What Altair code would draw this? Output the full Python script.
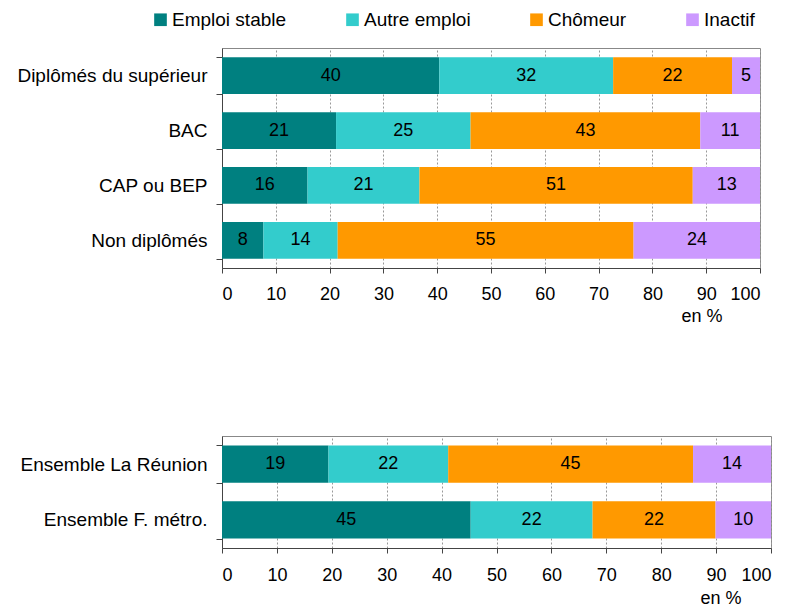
import altair as alt
import pandas as pd

statuts = ["Emploi stable", "Autre emploi", "Chômeur", "Inactif"]
couleurs = ["#008080", "#33CCCC", "#FF9900", "#CC99FF"]

diplomes = ["Diplômés du supérieur", "BAC", "CAP ou BEP", "Non diplômés"]
emploi_stable = [40.4, 21.2, 15.9, 7.7]
autre_emploi = [32.3, 25.0, 20.8, 13.8]
chomeur = [22.1, 42.7, 50.8, 55.0]
inactif = [5.2, 11.1, 12.6, 23.6]

ensembles = ["Ensemble La Réunion", "Ensemble F. métro."]
ens_emploi_stable = [19.4, 45.3]
ens_autre_emploi = [21.8, 22.2]
ens_chomeur = [44.6, 22.4]
ens_inactif = [14.2, 10.1]

x_ticks = [0, 10, 20, 30, 40, 50, 60, 70, 80, 90, 100]

FONT = "Liberation Sans"


def long_df(cats, series):
    rows = []
    for i, c in enumerate(cats):
        for k, s in enumerate(statuts):
            rows.append({"cat": c, "statut": s, "ordre": k, "value": series[k][i]})
    return pd.DataFrame(rows)


df_top = long_df(diplomes, [emploi_stable, autre_emploi, chomeur, inactif])
df_bot = long_df(ensembles, [ens_emploi_stable, ens_autre_emploi, ens_chomeur, ens_inactif])


def panel(df, cats, width, height, title_x, title_y, label_pad, legend):
    base = alt.Chart(df).transform_stack(
        stack="value", groupby=["cat"], as_=["x0", "x1"],
        sort=[alt.SortField("ordre", order="ascending")]
    ).transform_calculate(mid="(datum.x0 + datum.x1) / 2")

    xscale = alt.Scale(domain=[0, 100], nice=False, clamp=True)
    yenc = alt.Y(
        "cat:N", sort=cats,
        scale=alt.Scale(paddingInner=0.33, paddingOuter=0.17),
        axis=alt.Axis(
            title=None, labelFontSize=19, labelColor="black", labelFont=FONT,
            labelPadding=9, tickSize=6, tickBand="extent", tickColor="#444",
            domainColor="#444", labelLimit=300, grid=False,
        ),
    )
    bars = base.mark_bar().encode(
        x=alt.X(
            "x0:Q", scale=xscale,
            axis=alt.Axis(
                values=x_ticks, grid=True, gridDash=[2, 2], gridColor="#999",
                domainColor="#444", tickColor="#444", tickSize=5,
                labelFontSize=18, labelColor="black", labelFont=FONT,
                labelPadding=label_pad,
                title="en %", titleFontSize=18, titleFont=FONT, titleFontWeight="normal",
                titleColor="black", titleAlign="right", titleBaseline="middle",
                titleX=title_x, titleY=title_y,
            ),
        ),
        x2="x1:Q",
        y=yenc,
        color=alt.Color(
            "statut:N", sort=statuts,
            scale=alt.Scale(domain=statuts, range=couleurs),
            legend=legend,
        ),
        order=alt.Order("ordre:Q"),
    )
    text = base.mark_text(fontSize=18, font=FONT, color="black").encode(
        x=alt.X("mid:Q", scale=xscale),
        y=alt.Y("cat:N", sort=cats),
        text=alt.Text("value:Q", format=".0f"),
    )
    return alt.layer(bars, text).properties(width=width, height=height)


leg = alt.Legend(
    title=None, orient="none", legendX=-71, legendY=-38, direction="horizontal",
    symbolType="square", symbolSize=160, symbolStrokeWidth=0, columnPadding=56,
    labelFontSize=19, labelFont=FONT, labelColor="black", labelOffset=2, labelLimit=300,
)

top = panel(df_top, diplomes, 538, 220, 500, 48, 12, leg)
bot = panel(df_bot, ensembles, 549, 112, 519, 50, 13, None)

chart = alt.vconcat(top, bot, spacing=100).resolve_scale(
    color="independent"
).configure_view(stroke="#888", strokeWidth=1).properties(
    padding={"left": 8, "top": 1, "right": 5, "bottom": 0}
)

chart.save("out.html", embed_options={"renderer": "svg", "actions": False})
